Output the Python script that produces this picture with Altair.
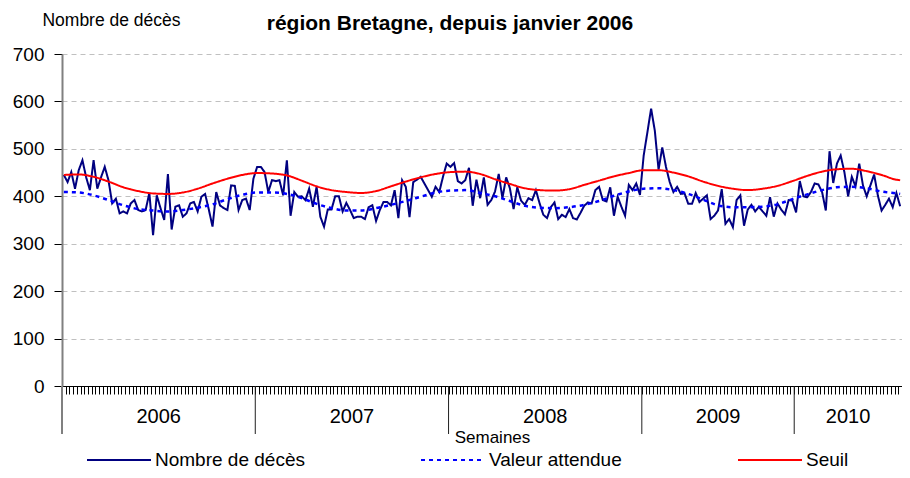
import altair as alt
import pandas as pd

FONT = "Liberation Sans, Arial, sans-serif"

titre = "région Bretagne, depuis janvier 2006"
series = ["Nombre de décès", "Valeur attendue", "Seuil"]
couleurs = ["#000080", "#0000ff", "#ff0000"]
annees = ["2006", "2007", "2008", "2009", "2010"]
bornes_annees = [0, 52, 104, 156, 197, 226]
graduations_y = [0, 100, 200, 300, 400, 500, 600, 700]

# weekly observed deaths (week index 0..225)
deces = [
    445, 430, 451, 416, 455, 476, 440, 413, 476, 416,
    440, 462, 434, 385, 395, 364, 368, 364, 385, 392,
    371, 368, 371, 407, 318, 402, 375, 350, 447, 330,
    378, 381, 357, 364, 385, 388, 368, 399, 405, 372,
    336, 409, 381, 375, 371, 423, 422, 371, 392, 395,
    371, 437, 462, 462, 451, 409, 434, 432, 434, 402,
    476, 359, 409, 399, 400, 392, 416, 378, 420, 357,
    336, 372, 372, 400, 400, 368, 386, 371, 354, 357,
    357, 352, 377, 381, 348, 371, 388, 388, 381, 413,
    354, 434, 420, 356, 430, 435, 441, 427, 413, 399,
    420, 409, 441, 469, 462, 470, 432, 427, 434, 460,
    380, 435, 396, 440, 382, 392, 410, 447, 396, 440,
    417, 373, 419, 391, 382, 396, 392, 413, 385, 361,
    354, 377, 387, 352, 361, 356, 373, 354, 351, 365,
    380, 387, 385, 413, 420, 392, 389, 419, 359, 399,
    378, 359, 424, 413, 427, 403, 486, 535, 585, 538,
    456, 503, 462, 430, 409, 420, 405, 406, 384, 384,
    407, 388, 395, 402, 352, 359, 370, 415, 342, 352,
    335, 392, 402, 338, 372, 382, 368, 378, 368, 359,
    398, 357, 385, 372, 362, 392, 391, 366, 432, 400,
    398, 409, 427, 425, 409, 370, 495, 428, 469, 486,
    451, 400, 441, 421, 469, 423, 400, 423, 446, 402,
    370, 382, 395, 377, 407, 379,
]

# smooth curves read every 4 weeks
semaines_courbes = list(range(0, 225, 4)) + [225]
attendu = [
    409, 408, 402, 392, 381, 373, 370, 368, 371, 376,
    383, 394, 403, 408, 408, 405, 396, 384, 375, 370,
    370, 375, 382, 390, 399, 408, 412, 413, 407, 400,
    390, 380, 376, 375, 377, 382, 390, 401, 410, 416,
    417, 413, 405, 393, 381, 377, 377, 378, 383, 394,
    404, 413, 419, 420, 417, 410, 406, 405,
]
seuil = [
    445, 446, 441, 431, 419, 411, 406, 405, 408, 416,
    427, 437, 445, 449, 448, 444, 433, 421, 413, 409,
    407, 411, 421, 431, 440, 447, 451, 452, 447, 436,
    426, 417, 413, 412, 415, 424, 433, 442, 449, 455,
    455, 450, 442, 431, 422, 416, 413, 416, 422, 432,
    443, 452, 457, 458, 453, 445, 435, 434,
]

obs = pd.DataFrame({"semaine": [i + 0.5 for i in range(len(deces))],
                    "valeur": deces, "serie": series[0]})
att = pd.DataFrame({"semaine": [w + 0.5 for w in semaines_courbes],
                    "valeur": attendu, "serie": series[1]})
seu = pd.DataFrame({"semaine": [w + 0.5 for w in semaines_courbes],
                    "valeur": seuil, "serie": series[2]})

W, H = 840, 332

x_enc = alt.X(
    "semaine:Q",
    scale=alt.Scale(domain=[bornes_annees[0], bornes_annees[-1]], nice=False, zero=False),
    axis=alt.Axis(
        values=list(range(bornes_annees[0], bornes_annees[-1] + 1)),
        labels=False, tickSize=8, tickColor="black", tickWidth=1,
        domainColor="black", domainWidth=1, grid=False,
        title="Semaines", titleX=430, titleY=51, titleAlign="center",
        titleBaseline="middle", titleFontSize=17, titleFontWeight="normal",
        titleFont=FONT, titleColor="black",
    ),
)
y_enc = alt.Y(
    "valeur:Q",
    scale=alt.Scale(domain=[0, 700], nice=False),
    axis=alt.Axis(
        values=graduations_y, title="Nombre de décès", titleAngle=0,
        titleAlign="center", titleBaseline="middle", titleX=49, titleY=-34,
        titleFontSize=17.5, titleFontWeight="normal", titleFont=FONT,
        titleColor="black", labelFontSize=19, labelFont=FONT, labelColor="black",
        labelPadding=10, tickSize=8, tickColor="black", tickWidth=1,
        domainColor="#808080", domainWidth=2, grid=True, gridColor="#c0c0c0",
        gridDash=[5, 4], gridWidth=1,
    ),
)
legende = alt.Legend(
    title=None, orient="none", legendX=24, legendY=373, direction="horizontal",
    columns=3, symbolType="stroke", symbolSize=4096, symbolStrokeWidth=2,
    labelFontSize=19, labelFont=FONT, labelColor="black", labelOffset=3,
    columnPadding=112, padding=0, labelLimit=0,
)
color_enc = alt.Color("serie:N", scale=alt.Scale(domain=series, range=couleurs), legend=legende)
dash_enc = alt.StrokeDash("serie:N", scale=alt.Scale(domain=series, range=[[1, 0], [4, 4], [1, 0]]), legend=legende)

l_obs = alt.Chart(obs).mark_line(strokeWidth=2).encode(x=x_enc, y=y_enc, color=color_enc, strokeDash=dash_enc)
l_att = alt.Chart(att).mark_line(strokeWidth=2.5, interpolate="monotone").encode(x=x_enc, y=y_enc, color=color_enc, strokeDash=dash_enc)
l_seu = alt.Chart(seu).mark_line(strokeWidth=2, interpolate="monotone").encode(x=x_enc, y=y_enc, color=color_enc, strokeDash=dash_enc)

r_left = alt.Chart(pd.DataFrame({"semaine": bornes_annees[:1]})).mark_rule(
    color="#808080", strokeWidth=2).encode(x=x_enc, y=alt.value(H), y2=alt.value(H + 48))
r_sep = alt.Chart(pd.DataFrame({"semaine": bornes_annees[1:-1]})).mark_rule(
    color="#202020", strokeWidth=1).encode(x=x_enc, y=alt.value(H), y2=alt.value(H + 48))

milieux = [(bornes_annees[k] + bornes_annees[k + 1]) / 2 for k in range(len(annees))]
t_annees = alt.Chart(pd.DataFrame({"semaine": milieux, "annee": annees})).mark_text(
    fontSize=20, font=FONT, color="black", baseline="middle", align="center"
).encode(x=x_enc, y=alt.value(H + 31), text="annee:N")

t_titre = alt.Chart(pd.DataFrame({"t": [titre]})).mark_text(
    fontSize=21, fontWeight="bold", font=FONT, color="black",
    baseline="alphabetic", align="center"
).encode(x=alt.value(388), y=alt.value(-24), text="t:N")

chart = alt.layer(
    r_left, r_sep, t_annees, l_obs, l_att, l_seu, t_titre
).properties(
    width=W, height=H,
    padding={"left": 54, "top": 46, "right": 0, "bottom": 84},
    autosize=alt.AutoSizeParams(type="none"),
    background="white",
).configure_view(stroke=None)

chart.save("out.html", embed_options={"renderer": "svg", "actions": False})
